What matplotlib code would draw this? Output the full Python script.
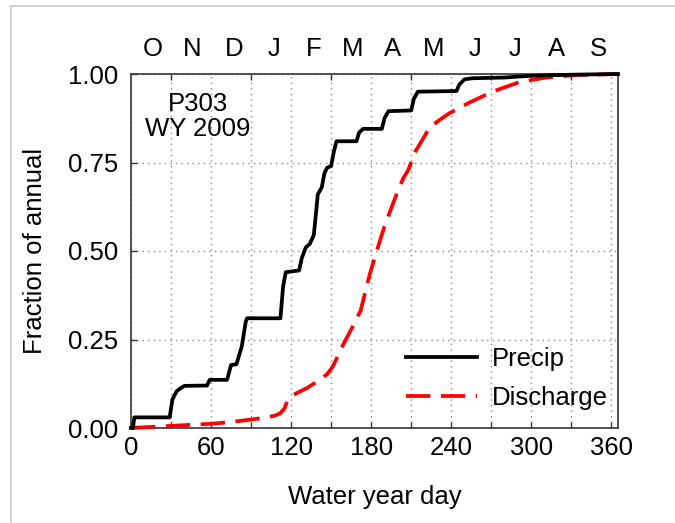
import numpy as np
import matplotlib
matplotlib.use('Agg')
import matplotlib.pyplot as plt
from matplotlib.lines import Line2D


# cumulative precipitation (water year day, fraction)
precip_day = [0, 1.5, 2.5, 29, 31, 34, 37, 40, 57, 59, 72, 75, 79, 83, 86, 87,
              112, 114, 116, 126, 128, 131, 134, 137, 139, 140, 143, 145, 147,
              150, 152, 154, 169, 171, 174, 188, 190, 193, 210, 212, 215, 244,
              246, 250, 256, 280, 300, 330, 365]
precip_frac = [0, 0, 0.03, 0.03, 0.08, 0.103, 0.112, 0.119, 0.12, 0.136, 0.136,
               0.178, 0.18, 0.23, 0.30, 0.31, 0.31, 0.40, 0.44, 0.445, 0.48,
               0.51, 0.52, 0.545, 0.62, 0.66, 0.68, 0.72, 0.735, 0.74, 0.78,
               0.81, 0.81, 0.835, 0.845, 0.845, 0.875, 0.895, 0.897, 0.93, 0.95,
               0.952, 0.97, 0.985, 0.988, 0.99, 0.995, 0.998, 1.0]

# cumulative discharge
discharge_day = [0, 10, 30, 45, 60, 75, 90, 100, 108, 112, 115, 117, 119, 125,
                 132, 141, 147, 151, 154, 157, 162, 166, 169, 172, 175, 179,
                 185, 190, 195, 199, 204, 208, 211, 213, 217, 224, 232, 239,
                 254, 271, 291, 311, 334, 365]
discharge_frac = [0, 0.002, 0.006, 0.009, 0.012, 0.017, 0.024, 0.029, 0.035,
                  0.042, 0.055, 0.075, 0.088, 0.10, 0.113, 0.135, 0.152, 0.172,
                  0.195, 0.22, 0.257, 0.285, 0.31, 0.33, 0.375, 0.435, 0.51,
                  0.57, 0.62, 0.66, 0.705, 0.73, 0.762, 0.78, 0.805, 0.85,
                  0.872, 0.89, 0.92, 0.95, 0.977, 0.99, 0.997, 1.0]

month_labels = ['O', 'N', 'D', 'J', 'F', 'M', 'A', 'M', 'J', 'J', 'A', 'S']
month_mid = [16, 46, 77, 107, 137, 166, 196, 227, 258, 288, 319, 350]

x_ticks = [0, 60, 120, 180, 240, 300, 360]
x_minor = [30, 90, 150, 210, 270, 330]
y_ticks = [0, 0.25, 0.5, 0.75, 1.0]

FS = 18.5
LW = 2.7
DASH = (6.5, 2.8)
plt.rcParams['font.family'] = ['Liberation Sans', 'DejaVu Sans']

W, H = 675, 523
fig = plt.figure(figsize=(W / 100, H / 100), dpi=100)
ax = fig.add_axes([131 / W, 1 - 428 / H, 487 / W, 354 / H])

ax.plot(precip_day, precip_frac, color='black', lw=LW, clip_on=False,
        solid_joinstyle='round', zorder=4)
ax.plot(discharge_day, discharge_frac, color='#ff0000', lw=LW,
        dashes=DASH, clip_on=False, zorder=3)

ax.set_xlim(0, 365)
ax.set_ylim(0, 1)
ax.set_xticks(x_ticks)
ax.set_xticks(x_minor, minor=True)
ax.set_yticks(y_ticks)
ax.set_yticklabels(['%.2f' % v for v in y_ticks])

ax.grid(True, which='both', axis='x', color='#888888', lw=1.0,
        linestyle=(0, (1, 3)))
ax.grid(True, which='major', axis='y', color='#888888', lw=1.0,
        linestyle=(0, (1, 3)))
ax.set_axisbelow(True)

ax.tick_params(which='both', direction='in', length=4, width=1,
               color='#333333', labelsize=FS)
ax.tick_params(axis='x', which='major', top=False, pad=5.5)
ax.tick_params(axis='x', which='minor', top=True, bottom=True)
ax.tick_params(axis='y', pad=9.5)
for s in ax.spines.values():
    s.set_color('#444444')
    s.set_linewidth(1.3)

top = ax.secondary_xaxis('top')
top.set_xticks(month_mid)
top.set_xticklabels(month_labels)
top.tick_params(length=0, labelsize=FS, pad=9)
top.spines['top'].set_visible(False)

ax.text(50, 0.88, 'P303\nWY 2009', fontsize=FS, ha='center', va='center',
        linespacing=1.1)

handles = [Line2D([], [], color='black', lw=LW),
           Line2D([], [], color='#ff0000', lw=LW, dashes=DASH)]
ax.legend(handles, ['Precip', 'Discharge'], loc='lower right',
          bbox_to_anchor=(0.98, 0.05), frameon=False, fontsize=FS,
          handlelength=2.75, handletextpad=0.6, labelspacing=0.6,
          borderpad=0, borderaxespad=0)

fig.text(35 / W, 1 - 251 / H, 'Fraction of annual', rotation=90,
         ha='center', va='center', fontsize=FS)
fig.text(375 / W, 1 - 497 / H, 'Water year day', ha='center', va='center',
         fontsize=FS)

# slide frame
fig.add_artist(Line2D([11 / W, 11 / W], [0, 1 - 5.5 / H], color='#c8c8c8',
                      lw=1.2, transform=fig.transFigure))
fig.add_artist(Line2D([11 / W, 1], [1 - 5.5 / H, 1 - 5.5 / H],
                      color='#c8c8c8', lw=1.2, transform=fig.transFigure))

fig.savefig('out.png', dpi=100)
